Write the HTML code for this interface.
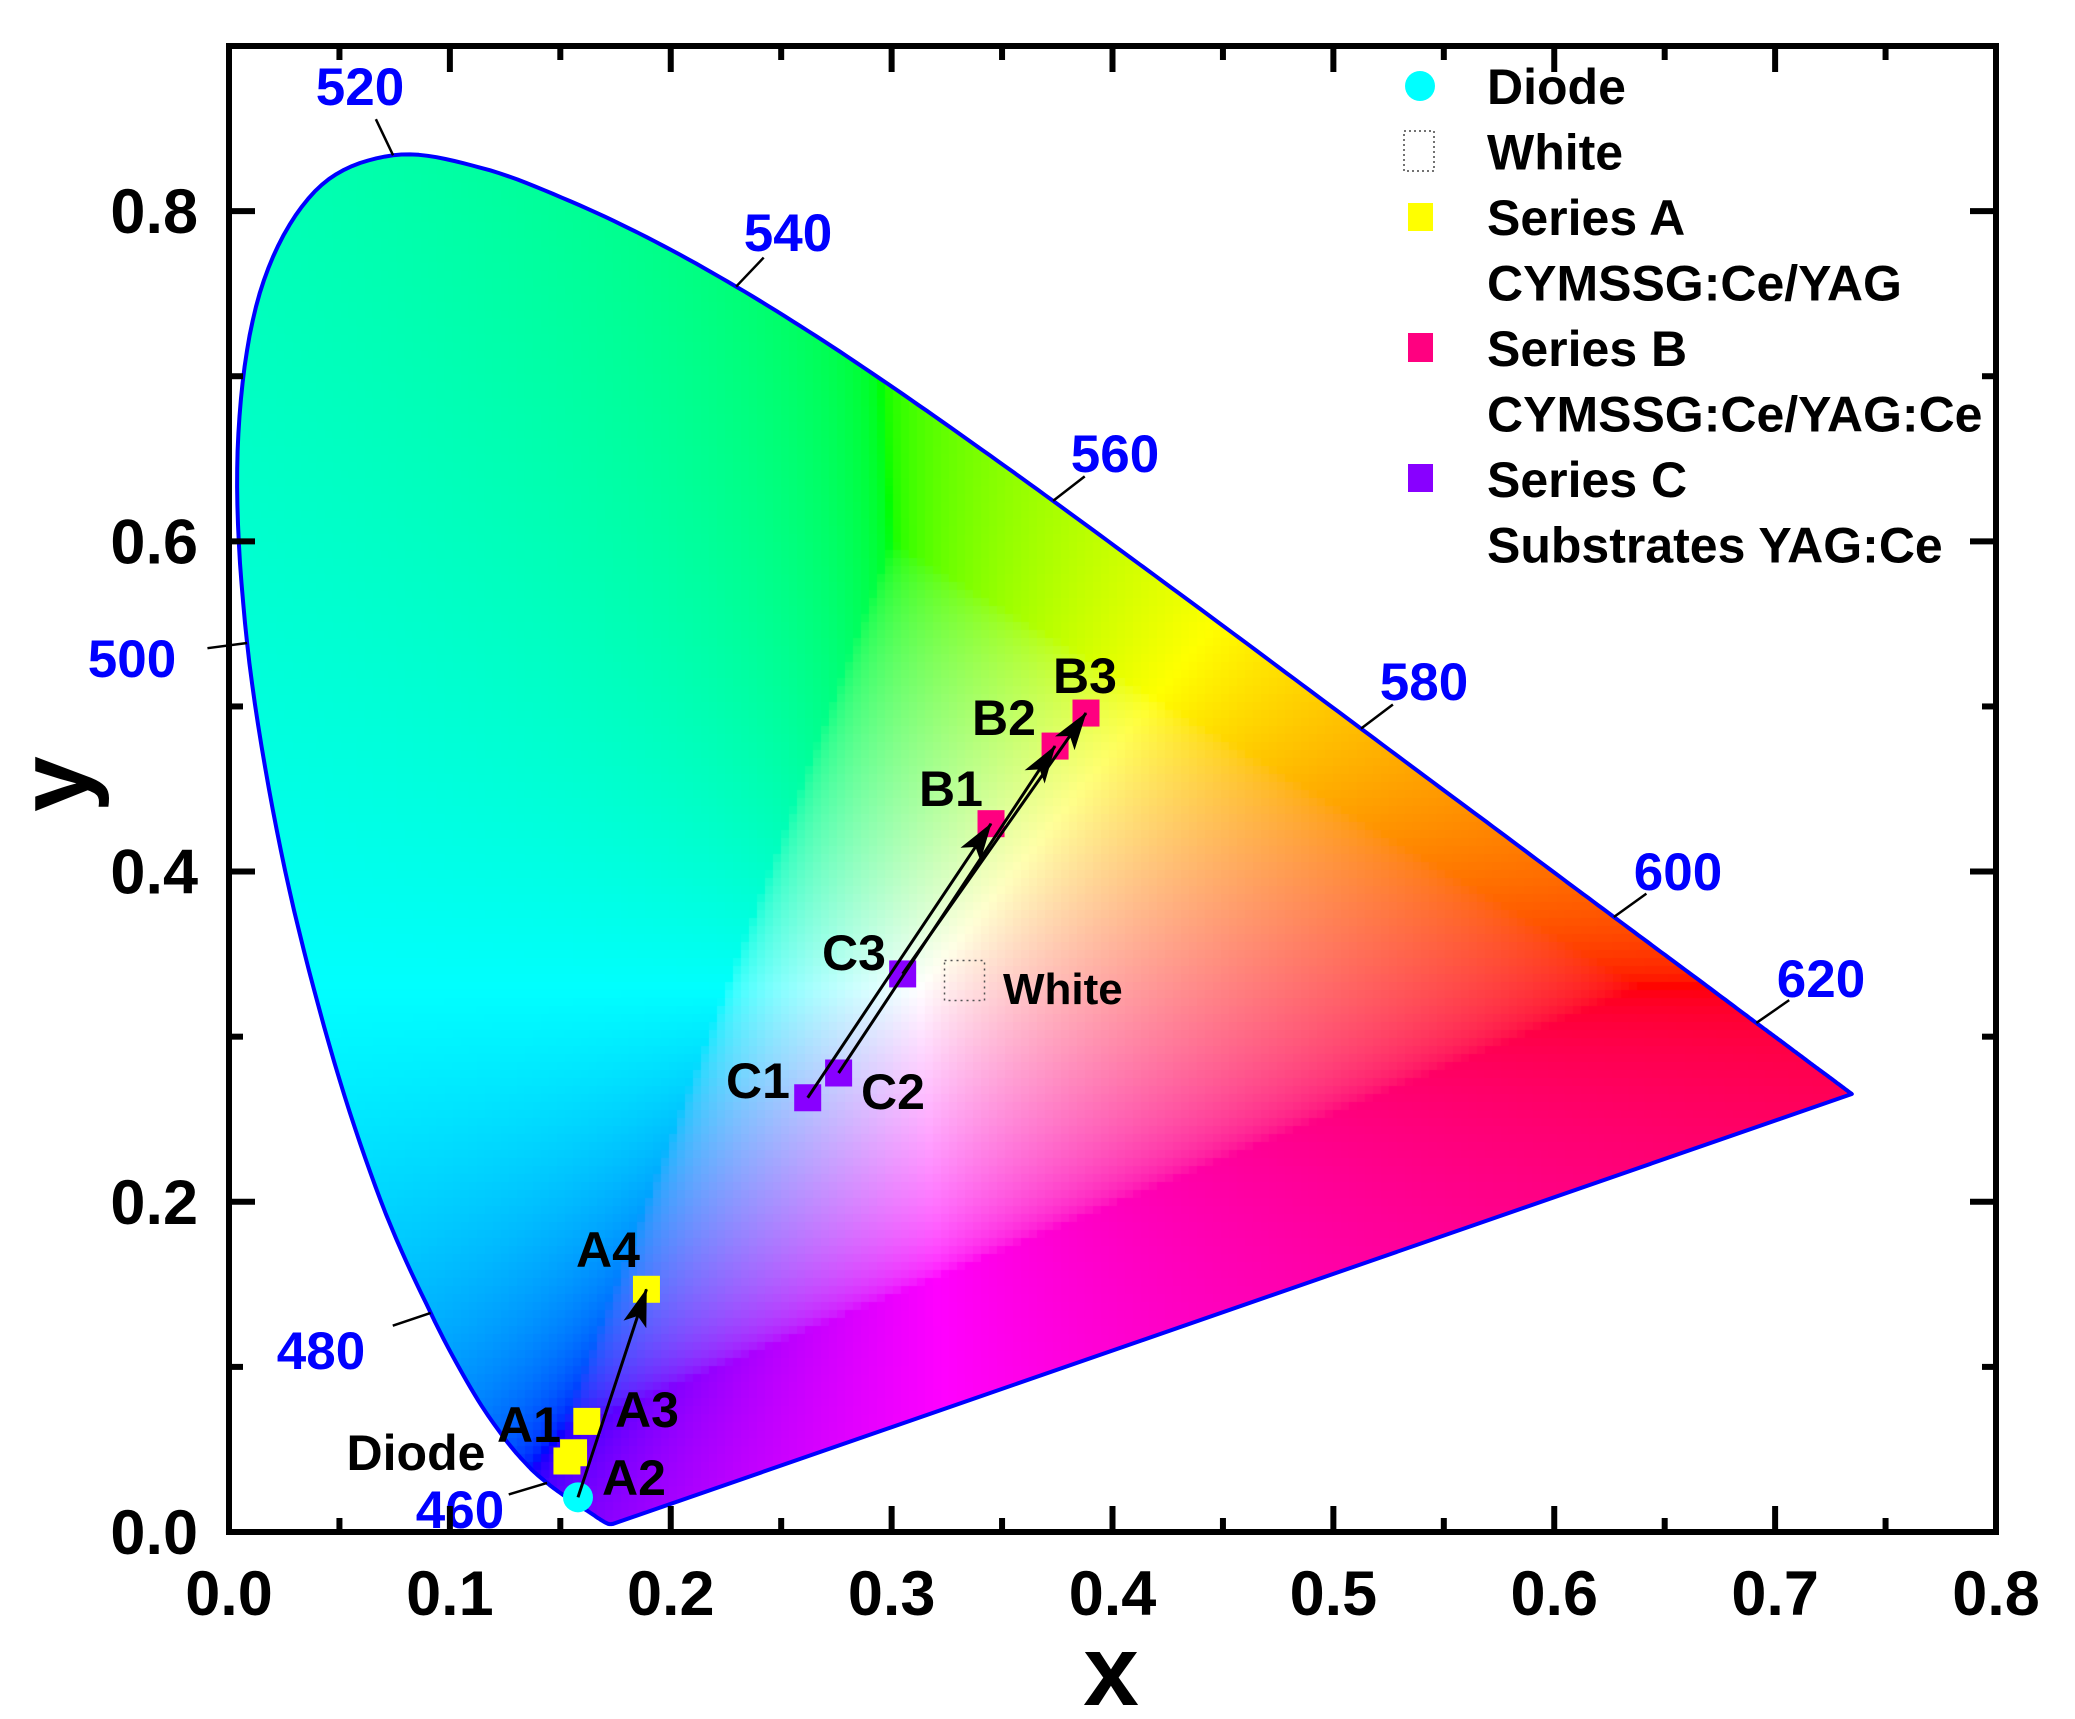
<!DOCTYPE html>
<html><head><meta charset="utf-8"><style>
html,body{margin:0;padding:0;background:#fff;}
#wrap{position:relative;width:2075px;height:1719px;overflow:hidden;font-family:"Liberation Sans",Arial,sans-serif;}
canvas,svg{position:absolute;left:0;top:0;}
</style></head><body>
<div id="wrap">
<canvas id="cv" width="2075" height="1719"></canvas>
<svg id="sv" width="2075" height="1719" xmlns="http://www.w3.org/2000/svg"><defs><marker id="ah" markerWidth="38" markerHeight="24" refX="37" refY="12" orient="auto" markerUnits="userSpaceOnUse" viewBox="0 0 38 24"><path d="M0,0 L38,12 L0,24 L9,12 Z" fill="#000"/></marker></defs></svg>
</div>
<script>
// ---- data ----
const locusX=[0.1741,0.1740,0.1738,0.1736,0.1733,0.1730,0.1726,0.1721,0.1714,0.1703,0.1689,0.1669,0.1644,0.1611,0.1566,0.1510,0.1440,0.1355,0.1241,0.1096,0.0913,0.0687,0.0454,0.0235,0.0082,0.0039,0.0139,0.0389,0.0743,0.1142,0.1547,0.1929,0.2296,0.2658,0.3016,0.3373,0.3731,0.4087,0.4441,0.4788,0.5125,0.5448,0.5752,0.6029,0.6270,0.6482,0.6658,0.6801,0.6915,0.7006,0.7079,0.7140,0.7190,0.7230,0.7260,0.7300,0.7334,0.7347];
const locusY=[0.0050,0.0050,0.0049,0.0049,0.0048,0.0048,0.0048,0.0048,0.0051,0.0058,0.0069,0.0086,0.0109,0.0138,0.0177,0.0227,0.0297,0.0399,0.0578,0.0868,0.1327,0.2007,0.2950,0.4127,0.5384,0.6548,0.7502,0.8120,0.8338,0.8262,0.8059,0.7816,0.7543,0.7243,0.6923,0.6589,0.6245,0.5896,0.5547,0.5202,0.4866,0.4544,0.4242,0.3965,0.3725,0.3514,0.3340,0.3197,0.3083,0.2993,0.2920,0.2859,0.2809,0.2770,0.2740,0.2700,0.2666,0.2653];
const wlLabels=["460","480","500","520","540","560","580","600","620"];
const wlX=[0.1440,0.0913,0.0082,0.0743,0.2296,0.3731,0.5125,0.6270,0.6915];
const wlY=[0.0297,0.1327,0.5384,0.8338,0.7543,0.6245,0.4866,0.3725,0.3083];
const aNames=["A1","A2","A3","A4"];
const aX=[0.153,0.156,0.162,0.189];
const aY=[0.043,0.048,0.067,0.147];
const bNames=["B1","B2","B3"];
const bX=[0.345,0.374,0.388];
const bY=[0.429,0.476,0.496];
const cNames=["C1","C2","C3"];
const cX=[0.262,0.276,0.305];
const cY=[0.263,0.278,0.338];
const diodeX=[0.158], diodeY=[0.021];
const whiteX=[0.333], whiteY=[0.334];
const xTicks=["0.0","0.1","0.2","0.3","0.4","0.5","0.6","0.7","0.8"];
const yTicks=["0.0","0.2","0.4","0.6","0.8"];

// ---- scales ----
const L=229,R=1996,T=46,B=1532;
const X=v=>L+v/0.8*(R-L);
const Y=v=>B-v/0.9*(B-T);
const NS="http://www.w3.org/2000/svg";
const sv=document.getElementById('sv');
function mk(tag,attrs,parent){const e=document.createElementNS(NS,tag);for(const k in attrs)e.setAttribute(k,attrs[k]);(parent||sv).appendChild(e);return e;}

// smooth locus (Catmull-Rom) in pixel space
const P=locusX.map((x,i)=>[X(x),Y(locusY[i])]);
const S=[];
for(let i=0;i<P.length-1;i++){
 const p0=P[Math.max(0,i-1)],p1=P[i],p2=P[i+1],p3=P[Math.min(P.length-1,i+2)];
 for(let k=0;k<10;k++){const t=k/10,t2=t*t,t3=t2*t;
  S.push([0,1].map(j=>0.5*((2*p1[j])+(-p0[j]+p2[j])*t+(2*p0[j]-5*p1[j]+4*p2[j]-p3[j])*t2+(-p0[j]+3*p1[j]-3*p2[j]+p3[j])*t3)));}
}
S.push(P[P.length-1]);

// ---- colour fill ----
const cv=document.getElementById('cv');const ctx=cv.getContext('2d');
ctx.beginPath();
S.forEach((p,i)=>{i?ctx.lineTo(p[0],p[1]):ctx.moveTo(p[0],p[1]);});
ctx.closePath();ctx.save();ctx.clip();
const step=8;
function g(c){c=Math.max(0,Math.min(1,c));return c<=0.0031308?12.92*c:1.055*Math.pow(c,1/2.4)-0.055;}
for(let px=L;px<R;px+=step){for(let py=T;py<B;py+=step){
 const x=(px+step/2-L)/(R-L)*0.8,y=(B-py-step/2)/(B-T)*0.9;if(y<=0.001)continue;
 const Xc=x/y,Yc=1,Zc=(1-x-y)/y;
 let r=3.2406*Xc-1.5372*Yc-0.4986*Zc,gg=-0.9689*Xc+1.8758*Yc+0.0415*Zc,b=0.0557*Xc-0.2040*Yc+1.0570*Zc;
 const mn=Math.min(r,gg,b);if(mn<0){r-=mn;gg-=mn;b-=mn;}
 const m=Math.max(r,gg,b)||1;
 ctx.fillStyle=`rgb(${Math.round(255*g(r/m))},${Math.round(255*g(gg/m))},${Math.round(255*g(b/m))})`;
 ctx.fillRect(px,py,step,step);}}
ctx.restore();

// ---- locus outline ----
let d=S.map((p,i)=>(i?'L':'M')+p[0].toFixed(1)+' '+p[1].toFixed(1)).join(' ')+' Z';
const loc=mk('path',{d:d,fill:'none',stroke:'#0000ff','stroke-width':4,'stroke-linejoin':'round'});



// wavelength ticks + labels
const lblPos=[[460,1509],[321,1350],[132,658],[360,86],[788,232],[1115,453],[1424,681],[1678,871],[1821,978]];
wlLabels.forEach((w,i)=>{
 const px=X(wlX[i]),py=Y(wlY[i]);const [lx,ly]=lblPos[i];
 const dx=lx-px,dy=ly-py,len=Math.hypot(dx,dy);
 const ln=mk('line',{x1:px,y1:py,x2:px+dx/len*40,y2:py+dy/len*40,stroke:'#000','stroke-width':2.5});
 
 
 const t=mk('text',{x:lx,y:ly+19,'text-anchor':'middle','font-size':53,'font-weight':'bold',fill:'#0000ff'});
 t.textContent=w;
 
 
});

// ---- axes frame and ticks ----
const fr=mk('rect',{x:L,y:T,width:R-L,height:B-T,fill:'none',stroke:'#000','stroke-width':6});


for(let i=0;i<=16;i++){const v=i*0.05,px=X(v),len=i%2?14:26;
 mk('line',{x1:px,y1:B,x2:px,y2:B-len,stroke:'#000','stroke-width':6});
 mk('line',{x1:px,y1:T,x2:px,y2:T+len,stroke:'#000','stroke-width':6});}
for(let i=0;i<=9;i++){const v=i*0.1,py=Y(v),len=i%2?14:26;
 mk('line',{x1:L,y1:py,x2:L+len,y2:py,stroke:'#000','stroke-width':6});
 mk('line',{x1:R,y1:py,x2:R-len,y2:py,stroke:'#000','stroke-width':6});}
xTicks.forEach((s,i)=>{const t=mk('text',{x:X(i*0.1),y:1615,'text-anchor':'middle','font-size':63,'font-weight':'bold'});t.textContent=s;
 
 });
yTicks.forEach((s,i)=>{const t=mk('text',{x:198,y:Y(i*0.2)+22,'text-anchor':'end','font-size':63,'font-weight':'bold'});t.textContent=s;
 
 });
const xt=mk('text',{x:1111,y:1705,'text-anchor':'middle','font-size':100,'font-weight':'bold'});xt.textContent='x';


const yt=mk('text',{x:0,y:0,'text-anchor':'middle','font-size':100,'font-weight':'bold',transform:'translate(88,784) rotate(-90)'});yt.textContent='y';



// ---- arrows ----
function arrow(x1,y1,x2,y2,name){const a=mk('line',{x1:X(x1),y1:Y(y1),x2:X(x2),y2:Y(y2),stroke:'#000','stroke-width':3,'marker-end':'url(#ah)'});
 
 }

// ---- markers ----
const sq=27;
function square(x,y,fill,name){const r=mk('rect',{x:X(x)-sq/2,y:Y(y)-sq/2,width:sq,height:sq,fill:fill});
 
 }
aNames.forEach((n,i)=>square(aX[i],aY[i],'#ffff00','point-'+n));
bNames.forEach((n,i)=>square(bX[i],bY[i],'#ff0080','point-'+n));
cNames.forEach((n,i)=>square(cX[i],cY[i],'#8800ff','point-'+n));
const dc=mk('circle',{cx:X(diodeX[0]),cy:Y(diodeY[0]),r:15,fill:'#00ffff'});


const wr=mk('rect',{x:X(whiteX[0])-20,y:Y(whiteY[0])-20,width:40,height:40,fill:'none',stroke:'#555','stroke-width':1.5,'stroke-dasharray':'2 4'});


arrow(diodeX[0],diodeY[0],aX[3],aY[3],'arrow-diode-a4');
cNames.forEach((n,i)=>arrow(cX[i],cY[i],bX[i],bY[i],'arrow-'+n+'-'+bNames[i]));

// ---- point labels ----
const pl=[["A1",529,1424],["A2",634,1477],["A3",647,1409],["A4",608,1249],["Diode",416,1452],["C1",758,1080],["C2",893,1091],["C3",854,952],["B1",951,788],["B2",1004,717],["B3",1085,675]];
pl.forEach(([s,x,y])=>{const t=mk('text',{x:x,y:y+18,'text-anchor':'middle','font-size':50,'font-weight':'bold'});t.textContent=s;
 
 });
const wt=mk('text',{x:1003,y:1004,'font-size':44,'font-weight':'bold'});wt.textContent='White';



// ---- legend ----
const lg=mk('g',{});


const rows=["Diode","White","Series A","CYMSSG:Ce/YAG","Series B","CYMSSG:Ce/YAG:Ce","Series C","Substrates YAG:Ce"];
rows.forEach((s,i)=>{const by=104+i*65.5;const t=mk('text',{x:1487,y:by,'font-size':50,'font-weight':'bold'},lg);t.textContent=s;
 
 });
mk('circle',{cx:1420,cy:86,r:15,fill:'#00ffff'},lg);
mk('rect',{x:1404,y:131,width:30,height:40,fill:'none',stroke:'#444','stroke-width':1.5,'stroke-dasharray':'2 3'},lg);
mk('rect',{x:1408,y:203,width:25,height:28,fill:'#ffff00'},lg);
mk('rect',{x:1408,y:333,width:25,height:29,fill:'#ff0080'},lg);
mk('rect',{x:1408,y:464,width:25,height:28,fill:'#8800ff'},lg);
</script>
</body></html>
